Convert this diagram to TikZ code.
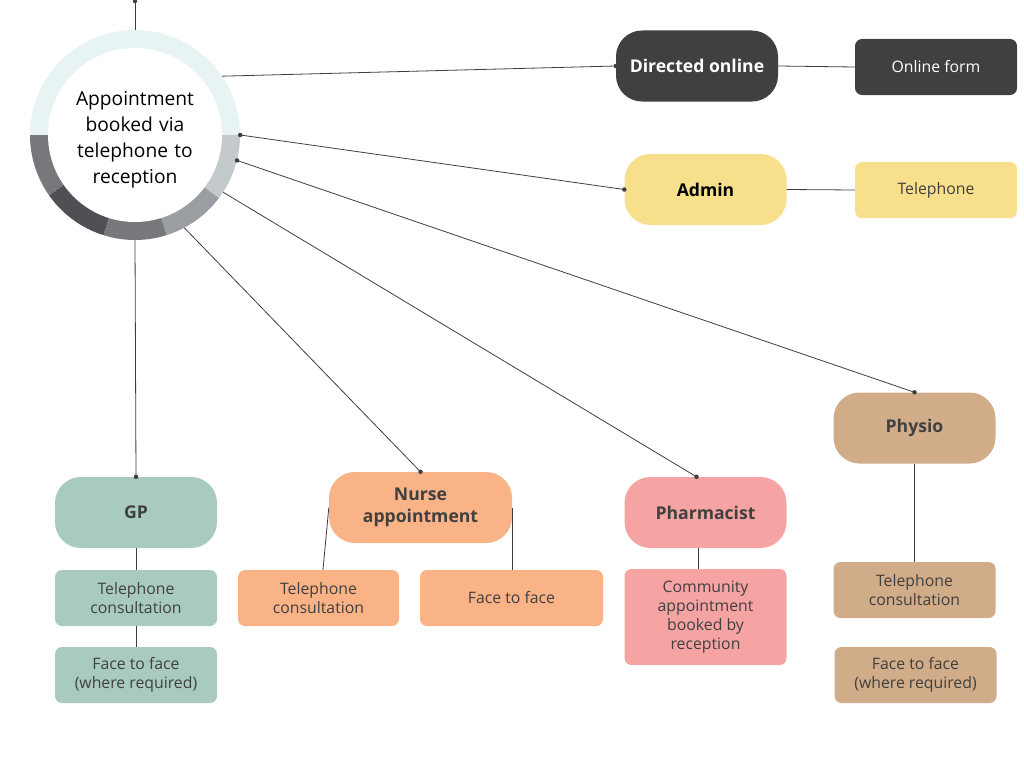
\documentclass[tikz,border=0pt]{standalone}
\usepackage{fontspec}
\setmainfont{Open Sans}
\usetikzlibrary{calc}
\definecolor{darkbox}{HTML}{404040}
\definecolor{txt}{HTML}{404040}
\definecolor{lnc}{HTML}{3F3F3F}
\definecolor{yel}{HTML}{F7DF8C}
\definecolor{grn}{HTML}{A8CBBD}
\definecolor{org}{HTML}{F9B387}
\definecolor{pnk}{HTML}{F6A3A3}
\definecolor{tan}{HTML}{D0AC89}
\definecolor{ringA}{HTML}{E8F3F4}
\definecolor{ringB}{HTML}{C4C9CC}
\definecolor{ringC}{HTML}{9A9DA1}
\definecolor{ringD}{HTML}{77787C}
\definecolor{ringE}{HTML}{505054}
\definecolor{ringF}{HTML}{78787C}
\begin{document}
\begin{tikzpicture}[x=1pt,y=1pt,
  pill/.style={rounded corners=26pt, minimum width=162pt, minimum height=71pt, inner sep=0pt, align=center, font=\fontsize{17.6}{22}\selectfont\bfseries, text=txt},
  leaf/.style={rounded corners=7pt, minimum width=162pt, minimum height=56pt, inner sep=0pt, align=center, font=\fontsize{15.8}{19}\selectfont, text=txt},
  link/.style={draw=lnc, line width=0.8pt},
  dotm/.style={circle, fill=lnc, inner sep=0pt, minimum size=4.5pt}
]
\useasboundingbox (0,0) rectangle (1024,-768);
\fill[white] (0,0) rectangle (1024,-768);

% ring
\fill[ringA] (135,-135) -- ++(0:105) arc[start angle=0,end angle=180,radius=105] -- cycle;
\fill[ringB] (135,-135) -- ++(0:105) arc[start angle=0,end angle=-37,radius=105] -- cycle;
\fill[ringC] (135,-135) -- ++(-37:105) arc[start angle=-37,end angle=-72.5,radius=105] -- cycle;
\fill[ringD] (135,-135) -- ++(-72.5:105) arc[start angle=-72.5,end angle=-107.5,radius=105] -- cycle;
\fill[ringE] (135,-135) -- ++(-107.5:105) arc[start angle=-107.5,end angle=-145,radius=105] -- cycle;
\fill[ringF] (135,-135) -- ++(-145:105) arc[start angle=-145,end angle=-180,radius=105] -- cycle;
\fill[white] (135,-135) circle[radius=87];

\node[circle, minimum size=210pt, inner sep=0pt] (hub) at (135,-135) {};
\node[align=center, text width=160pt, inner sep=0pt,
      font=\fontsize{19.2}{26}\selectfont, text=black] (hubtxt) at (135,-140)
      {Appointment\\booked via\\telephone to\\reception};

% top-level nodes
\node[pill, fill=darkbox, text=white] (dir) at (697,-66) {Directed online};
\node[leaf, fill=darkbox, text=white] (online) at (936,-67) {Online form};
\node[pill, fill=yel, text=black] (admin) at (705.5,-189.5) {Admin};
\node[leaf, fill=yel] (tel) at (936,-190) {Telephone};

\node[pill, fill=grn] (gp) at (136,-512.5) {GP};
\node[leaf, fill=grn] (gpt) at (136,-598) {Telephone\\consultation};
\node[leaf, fill=grn] (gpf) at (136,-675) {Face to face\\(where required)};

\node[pill, fill=org, minimum width=183pt] (nurse) at (420.5,-507.5) {\raisebox{-2pt}{\parbox{170pt}{\centering Nurse\\appointment}}};
\node[leaf, fill=org, minimum width=161pt] (nt) at (318.5,-598) {Telephone\\consultation};
\node[leaf, fill=org, minimum width=183pt] (nf) at (511.5,-598) {Face to face};

\node[pill, fill=pnk] (ph) at (705.5,-512.5) {Pharmacist};
\node[leaf, fill=pnk, minimum height=96pt] (pht) at (705.5,-617) {Community\\appointment\\booked by\\reception};

\node[pill, fill=tan] (py) at (914.5,-428) {Physio};
\node[leaf, fill=tan] (pyt) at (914.5,-590) {Telephone\\consultation};
\node[leaf, fill=tan] (pyf) at (915.5,-675) {Face to face\\(where required)};

% connectors
\coordinate (top) at (135,-1);
\draw[link] (hub.north) -- (top);
\node[dotm] at (top) {};

\draw[link] (hub.34) -- (dir.west);
\node[dotm] at (dir.west) {};
\draw[link] (dir.east) -- (online.west);

\draw[link] (hub.east) -- (admin.west);
\node[dotm] at (hub.east) {};
\node[dotm] at (admin.west) {};
\draw[link] (admin.east) -- (tel.west);

\draw[link] (hub.-14) -- (py.north);
\node[dotm] at (hub.-14) {};
\node[dotm] at (py.north) {};

\draw[link] (hub.-33) -- ([xshift=-9pt]ph.north);
\node[dotm] at ([xshift=-9pt]ph.north) {};

\draw[link] (hub.-62) -- (nurse.north);
\node[dotm] at (nurse.north) {};

\draw[link] (hub.south) -- (gp.north);
\node[dotm] at (gp.north) {};

\draw[link] (gp.south) -- (gpt.north);
\draw[link] (gpt.south) -- (gpf.north);

\draw[link] (nurse.west) -- ([xshift=4.5pt]nt.north);
\draw[link] (nurse.east) -- (nurse.east |- nf.north);

\draw[link] ([xshift=-7pt]ph.south) -- ([xshift=-7pt]pht.north);

\draw[link] (py.south) -- (pyt.north);
\end{tikzpicture}
\end{document}
